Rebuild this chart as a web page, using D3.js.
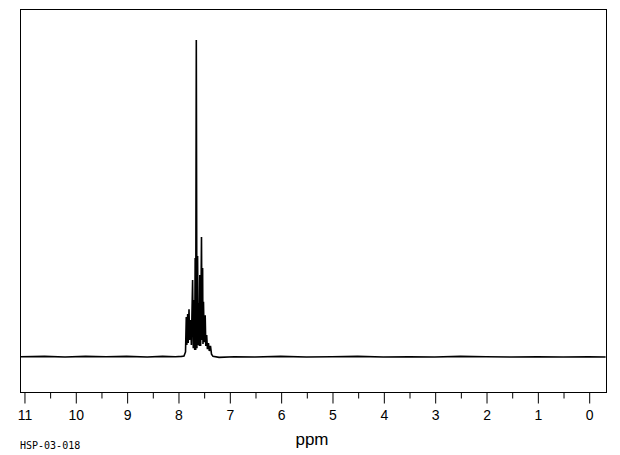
<!DOCTYPE html>
<html>
<head>
<meta charset="utf-8">
<script src="https://cdn.jsdelivr.net/npm/d3@7"></script>
<style>
  html, body { margin: 0; padding: 0; background: #fff; }
  svg { display: block; }
</style>
</head>
<body>
<svg id="chart" width="620" height="455"></svg>
<script>
// ---- data ----
const ppm = [
  11.07, 10.6, 10.2, 9.8, 9.4, 9.0, 8.6, 8.3, 8.05, 7.93,
  7.883, 7.853, 7.838, 7.828, 7.811, 7.801, 7.785, 7.774, 7.752, 7.739,
  7.715, 7.702, 7.686, 7.674, 7.665, 7.655, 7.643, 7.631, 7.618, 7.606,
  7.593, 7.584, 7.575, 7.559, 7.542, 7.532, 7.520, 7.513, 7.503, 7.489,
  7.470, 7.458, 7.441, 7.427, 7.406, 7.390, 7.367, 7.347, 7.318,
  7.2, 6.9, 6.5, 6.0, 5.5, 5.0, 4.5, 4.0, 3.5, 3.0, 2.5, 2.0, 1.5, 1.0, 0.5, 0.0, -0.33
];
const intensity = [
  0.1, 0.2, 0.0, 0.2, 0.1, 0.2, 0.0, 0.2, 0.1, 0.2,
  0.3, 1.6, 12.6, 3.8, 13.6, 4.4, 15.1, 5.4, 11.7, 3.8,
  24.3, 2.8, 18.0, 2.2, 31.2, 2.2, 100, 2.8, 31.9, 3.8,
  17.0, 3.5, 25.9, 3.5, 37.9, 5.4, 28.1, 4.1, 17.4, 4.7,
  13.2, 3.5, 6.9, 2.5, 4.4, 1.9, 3.5, 0.9, 0.2,
  -0.1, 0.1, 0.0, 0.2, 0.0, 0.1, 0.2, 0.0, 0.1, 0.0, 0.2, 0.1, 0.0, 0.1, 0.0, 0.1, 0.0
];
const majorTicks = [11, 10, 9, 8, 7, 6, 5, 4, 3, 2, 1, 0];
const minorTicks = [10.5, 9.5, 8.5, 7.5, 6.5, 5.5, 4.5, 3.5, 2.5, 1.5, 0.5];
const axisTitle = "ppm";
const sampleId = "HSP-03-018";

// ---- layout ----
const plot = { left: 20, top: 9, right: 606, bottom: 392 };
const svg = d3.select("#chart");

const x = d3.scaleLinear().domain([11.077, -0.337]).range([plot.left, plot.right]);
const y = d3.scaleLinear().domain([-11.04, 109.8]).range([plot.bottom, plot.top]);

svg.append("defs").append("clipPath").attr("id", "clip")
  .append("rect")
  .attr("x", plot.left).attr("y", plot.top)
  .attr("width", plot.right - plot.left).attr("height", plot.bottom - plot.top);

const pts = ppm.map((p, i) => [p, intensity[i]]);
const line = d3.line().x(d => x(d[0])).y(d => y(d[1]));

svg.append("path")
  .datum(pts)
  .attr("clip-path", "url(#clip)")
  .attr("fill", "none")
  .attr("stroke", "#000")
  .attr("stroke-width", 1.6)
  .attr("stroke-linejoin", "miter")
  .attr("d", line);

// frame
svg.append("rect")
  .attr("x", plot.left + 0.5).attr("y", plot.top + 0.5)
  .attr("width", plot.right - plot.left).attr("height", plot.bottom - plot.top)
  .attr("fill", "none").attr("stroke", "#000").attr("stroke-width", 1);

// major axis
const gMajor = svg.append("g")
  .attr("transform", `translate(0.5,${plot.bottom + 0.5})`)
  .call(d3.axisBottom(x).tickValues(majorTicks).tickSize(11).tickSizeOuter(0)
        .tickPadding(6).tickFormat(d3.format("d")));
gMajor.select(".domain").remove();
gMajor.selectAll("line").attr("stroke", "#000");
gMajor.selectAll("text")
  .attr("fill", "#000")
  .attr("font-family", "'Liberation Sans', Arial, sans-serif")
  .attr("font-size", 14)
  .attr("dy", null)
  .attr("y", 27.5);

// minor axis
const gMinor = svg.append("g")
  .attr("transform", `translate(0.5,${plot.bottom + 0.5})`)
  .call(d3.axisBottom(x).tickValues(minorTicks).tickSize(6).tickSizeOuter(0).tickFormat(""));
gMinor.select(".domain").remove();
gMinor.selectAll("line").attr("stroke", "#000");

// axis title
svg.append("text")
  .attr("x", 312).attr("y", 445)
  .attr("text-anchor", "middle")
  .attr("font-family", "'Liberation Sans', Arial, sans-serif")
  .attr("font-size", 17)
  .attr("fill", "#000")
  .text(axisTitle);

// sample id
svg.append("text")
  .attr("x", 20).attr("y", 449)
  .attr("font-family", "'DejaVu Sans Mono', monospace")
  .attr("font-size", 10)
  .attr("fill", "#000")
  .text(sampleId);
</script>
</body>
</html>
